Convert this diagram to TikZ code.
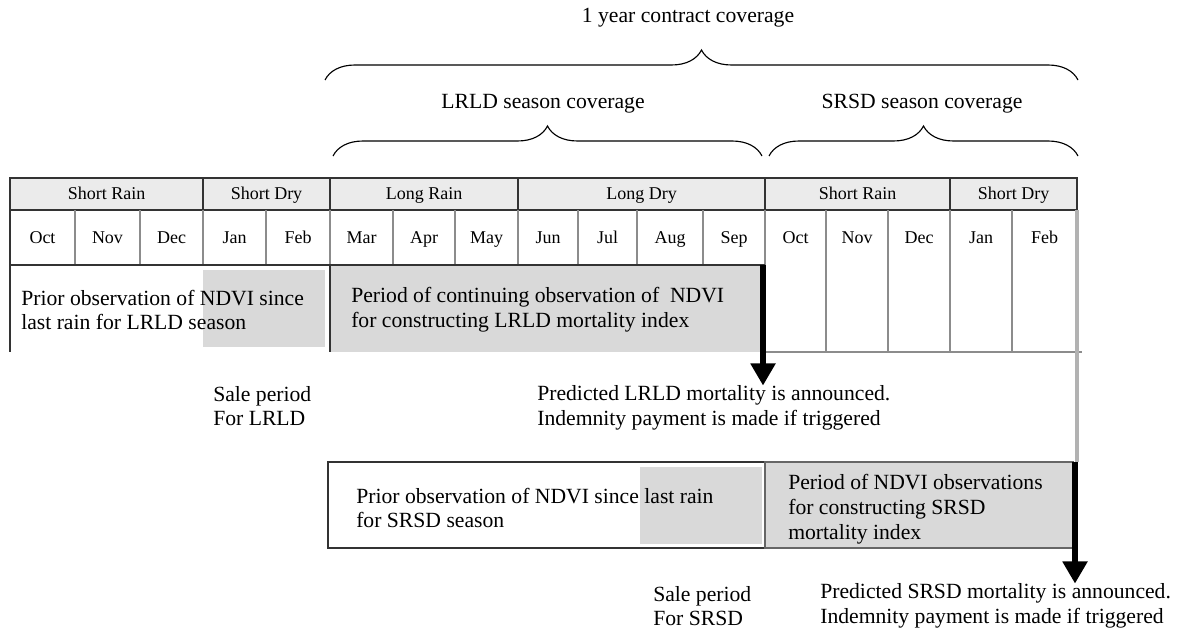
\documentclass[tikz,border=0pt]{standalone}
\usepackage{fontspec}
\setmainfont{Liberation Serif}
\usetikzlibrary{arrows.meta}
\usetikzlibrary{decorations.pathreplacing}

\begin{document}
\begin{tikzpicture}[x=0.025cm, y=-0.025cm,
  txt/.style={anchor=west, align=left, inner sep=0pt, font=\fontsize{15.4}{17.6}\selectfont},
  title/.style={inner sep=0pt, font=\fontsize{15.4}{17.6}\selectfont},
  small/.style={anchor=base, inner sep=0pt, font=\fontsize{12.8}{14}\selectfont},
  seasoncell/.style={draw=black!80, line width=1.1pt, fill=black!8},
  monthline/.style={draw=black!45, line width=0.8pt},
  border/.style={draw=black!80, line width=1.1pt},
  shade/.style={fill=black!15},
  brace/.style={decorate, decoration={brace, amplitude=0.75cm}, line width=0.8pt},
  paths/.style={-{Triangle[width=0.6cm, length=0.55cm]}, line width=3.6pt}]

 \useasboundingbox (0,0) rectangle (1182,632);

 % coverage braces
 \node[title] (year_cov) at (688,18)
     {1 year contract coverage};
 \node[title] (lrld_cov) at (543,104)
     {LRLD season coverage};
 \node[title] (srsd_cov) at (922,104)
     {SRSD season coverage};

 \coordinate (year_a) at (325,80);
 \coordinate (year_b) at (1078,80);
 \coordinate (lrld_a) at (333,156);
 \coordinate (lrld_b) at (762,156);
 \coordinate (srsd_a) at (769,156);
 \coordinate (srsd_b) at (1078,156);

 \draw [brace] (year_a) -- (year_b);
 \draw [brace] (lrld_a) -- (lrld_b);
 \draw [brace] (srsd_a) -- (srsd_b);

 % season row
 \foreach \l/\r/\name [count=\i] in {10/203/Short Rain, 203/330/Short Dry,
     330/518/Long Rain, 518/765/Long Dry, 765/950/Short Rain, 950/1077/Short Dry}{
   \draw [seasoncell] (\l,178) rectangle (\r,210);
   \node[small] (season_\i) at ({(\l+\r)/2},199) {\name};
 }

 % month row
 \foreach \l/\r/\mon [count=\i] in {10/75/Oct, 75/140/Nov, 140/203/Dec,
     203/266/Jan, 266/330/Feb, 330/393/Mar, 393/455/Apr, 455/518/May,
     518/578/Jun, 578/637/Jul, 637/703/Aug, 703/765/Sep, 765/826/Oct,
     826/888/Nov, 888/950/Dec, 950/1012/Jan, 1012/1077/Feb}{
   \node[small] (month_\i) at ({(\l+\r)/2},243) {\mon};
 }
 \foreach \x in {75,140,203,266,330,393,455,518,578,637,703,765}
   \draw [monthline] (\x,210) -- (\x,265);
 \foreach \x in {826,888,950,1012}
   \draw [monthline] (\x,210) -- (\x,352);

 % LRLD observation
 \fill [shade] (203,270) rectangle (325,347);
 \fill [shade] (330,265) rectangle (763,352);
 \draw [border] (10,178) -- (10,352);
 \draw [border] (330,265) -- (330,352);
 \draw [border] (10,265) -- (765,265);
 \draw [monthline] (763,352) -- (1082,352);
 \draw [draw=black!30, line width=2.4pt] (1077,210) -- (1077,462);

 \node[txt] (lrld_prior) at (21,310)
     {Prior observation of NDVI since\\last rain for LRLD season};
 \node[txt] (lrld_period) at (351,310)
     {Period of continuing observation of \ NDVI\\for constructing LRLD mortality index};
 \node[txt] (lrld_sale) at (213,406)
     {Sale period\\For LRLD};
 \node[txt] (lrld_note) at (537,408)
     {Predicted LRLD mortality is announced.\\Indemnity payment is made if triggered};

 % SRSD observation
 \fill [shade] (640,467) rectangle (762,544);
 \draw [border] (328,462) rectangle (765,548);
 \filldraw [shade, draw=black!60, line width=0.8pt] (765,462) rectangle (1073,548);

 \node[txt] (srsd_prior) at (356,508)
     {Prior observation of NDVI since last rain\\for SRSD season};
 \node[txt] (srsd_period) at (788,509)
     {Period of NDVI observations\\for constructing SRSD\\mortality index};
 \node[txt] (srsd_sale) at (653,606)
     {Sale period\\For SRSD};
 \node[txt] (srsd_note) at (820,606)
     {Predicted SRSD mortality is announced.\\Indemnity payment is made if triggered};

 \coordinate (lrld_end) at (763,265);
 \coordinate (srsd_end) at (1075,462);

 \draw [paths] (lrld_end) -- (lrld_end |- lrld_note.north);
 \draw [paths] (srsd_end) -- (srsd_end |- srsd_note.north);

\end{tikzpicture}
\end{document}
